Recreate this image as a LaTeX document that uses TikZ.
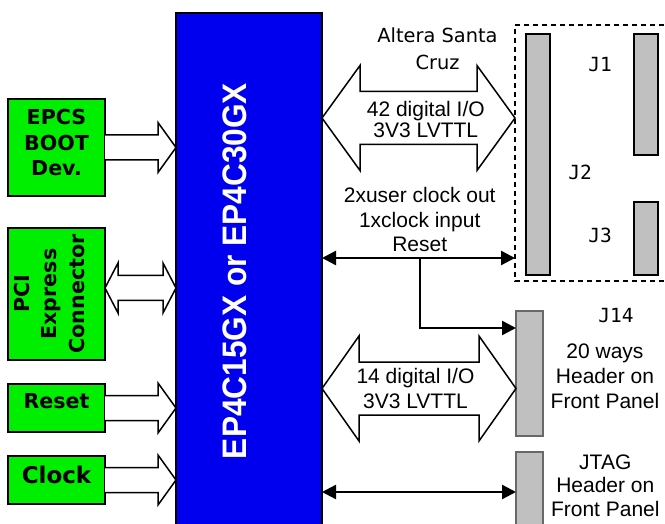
\documentclass[tikz,border=0pt]{standalone}
\usepackage{graphicx}
\usepackage{fontspec}
\setmainfont{Liberation Sans}
\newfontfamily\verdanafont{DejaVu Sans}
\newfontfamily\jmonofont{DejaVu Sans Mono}
\usetikzlibrary{positioning, calc, arrows.meta}

\definecolor{fpgablue}{RGB}{0,0,238}
\definecolor{boxgreen}{RGB}{0,238,0}
\definecolor{bargray}{RGB}{192,192,192}
\definecolor{bardark}{RGB}{105,105,105}

% outline arrows: from, to, shaft half, head half, head length
\newcommand{\fatarrow}[5]{%
  \draw[fat] ($(#1)+(0,-#3)$) -- ($(#2)+(-#5,-#3)$) -- ($(#2)+(-#5,-#4)$) -- (#2)
      -- ($(#2)+(-#5,#4)$) -- ($(#2)+(-#5,#3)$) -- ($(#1)+(0,#3)$);}
\newcommand{\dblarrow}[5]{%
  \draw[fat] (#1) -- ($(#1)+(#5,-#4)$) -- ($(#1)+(#5,-#3)$) -- ($(#2)+(-#5,-#3)$)
      -- ($(#2)+(-#5,-#4)$) -- (#2) -- ($(#2)+(-#5,#4)$) -- ($(#2)+(-#5,#3)$)
      -- ($(#1)+(#5,#3)$) -- ($(#1)+(#5,#4)$) -- cycle;}

\begin{document}
\begin{tikzpicture}[
          x=1pt, y=-1pt,
          block/.style={
              rectangle, draw, line width=1.5pt, fill=boxgreen,
              inner sep=0pt, outer sep=0pt, minimum width=97pt
          },
          greentext/.style={
              align=center,
              font=\verdanafont\bfseries\fontsize{20.6}{25.5}\selectfont
          },
          fpga/.style={
              rectangle, draw, line width=1.5pt, fill=fpgablue,
              inner sep=0pt, outer sep=0pt,
              minimum width=146pt, minimum height=520pt
          },
          bar/.style={
              rectangle, draw, line width=1.5pt, fill=bargray,
              inner sep=0pt, outer sep=0pt, minimum width=24pt
          },
          frontbar/.style={bar, draw=bardark, line width=2pt, minimum width=27pt},
          info/.style={align=center, font=\fontsize{21}{24.5}\selectfont},
          jlabel/.style={font=\jmonofont\fontsize{19.5}{22}\selectfont},
          fat/.style={draw, line width=1.5pt, fill=white, line join=miter},
          sig/.style={line width=2.4pt, -{Triangle[length=14pt,width=14pt]}},
          dblsig/.style={line width=2.4pt,
              {Triangle[length=14pt,width=14pt]}-{Triangle[length=14pt,width=14pt]}},
          boardedge/.style={line width=1.5pt, dash pattern=on 5pt off 4pt},
      ]
          \useasboundingbox (0,0) rectangle (665,524);

          % FPGA block
          \node [fpga] (fpga) at (249,273) {};
          \node [rotate=90, text=white, font=\bfseries\fontsize{34}{34}\selectfont]
              (fpgalabel) at (234.5,271) {\scalebox{0.93}[1]{EP4C15GX or EP4C30GX}};

          % Left blocks
          \node [block, minimum height=97pt] (epcs) at (56.5,147.5) {};
          \node [block, minimum height=132pt] (pci) at (56.5,294) {};
          \node [block, minimum height=48pt] (reset) at (56.5,408) {};
          \node [block, minimum height=48pt] (clock) at (56.5,480) {};
          \node [greentext] (epcs_text) at ([yshift=4.5pt]epcs.center) {EPCS\\BOOT\\Dev.};
          \node [greentext, rotate=90, font=\verdanafont\bfseries\fontsize{20.6}{27.5}\selectfont]
              (pci_text) at ([xshift=-7pt]pci.center) {PCI\\Express\\Connector};
          \node [greentext] (reset_text) at ([yshift=6.5pt]reset.center) {Reset};
          \node [greentext, font=\verdanafont\bfseries\fontsize{23}{26}\selectfont]
              (clock_text) at ([yshift=5.5pt]clock.center) {Clock};

          % Santa Cruz connectors (board runs off the right edge)
          \coordinate (santa) at (515,153);
          \draw [boardedge] (700,25) -| (santa) |- (700,281);
          \node [bar, minimum height=241pt] (j2) at (538,154.5) {};
          \node [bar, minimum height=121pt] (j1) at (646,94.5) {};
          \node [bar, minimum height=73pt] (j3) at (646,238.5) {};
          \node [jlabel] (j1_label) at (600,65) {J1};
          \node [jlabel] (j2_label) at (580,172) {J2};
          \node [jlabel] (j3_label) at (600,235) {J3};
          \node [font=\verdanafont\fontsize{19.4}{26.5}\selectfont, align=center]
              (santa_label) at (437.5,49) {Altera Santa\\Cruz};

          % Front panel headers
          \node [frontbar, minimum height=125pt] (j14) at (529.5,373.5) {};
          \node [frontbar, minimum height=80pt] (jtag) at (529.5,492) {};
          \node [jlabel] (j14_label) at (616,316) {J14};
          \node [info, font=\fontsize{21}{25}\selectfont] (j14_text) at (605,376) {20 ways\\Header on\\Front Panel};
          \node [info, font=\fontsize{21}{23.7}\selectfont] (jtag_text) at (605.3,485.5) {JTAG\\Header on\\Front Panel};

          % Arrows left
          \fatarrow{epcs.east}{fpga.west |- epcs.east}{12.5}{25}{18}
          \dblarrow{pci.east |- 0,288}{fpga.west |- 0,288}{12.5}{25}{13}
          \fatarrow{reset.east}{fpga.west |- reset.east}{12.5}{25}{18}
          \fatarrow{clock.east}{fpga.west |- clock.east}{12.5}{25}{18}

          % Arrows right
          \dblarrow{fpga.east |- 0,118}{santa |- 0,118}{26.5}{52.5}{38}
          \node [info, font=\fontsize{21}{21}\selectfont] (io42) at (425.8,119.5) {42 digital I/O\\3V3 LVTTL};
          \dblarrow{fpga.east |- 0,388.5}{j14.west |- 0,388.5}{26.5}{52.5}{37}
          \node [info] (io14) at (415.5,388.3) {14 digital I/O\\3V3 LVTTL};

          \node [info] (clk_text) at (419.7,219.7) {2xuser clock out\\1xclock input\\Reset};
          \coordinate (clk_l) at (fpga.east |- 0,258);
          \coordinate (clk_r) at (santa |- 0,258);
          \coordinate (branch) at (420,258);
          \draw [dblsig] (clk_l) -- (clk_r);
          \draw [sig] (branch) |- (j14.west |- 0,328);
          \draw [dblsig] (fpga.east |- 0,492) -- (jtag.west |- 0,492);
        \end{tikzpicture}
\end{document}
